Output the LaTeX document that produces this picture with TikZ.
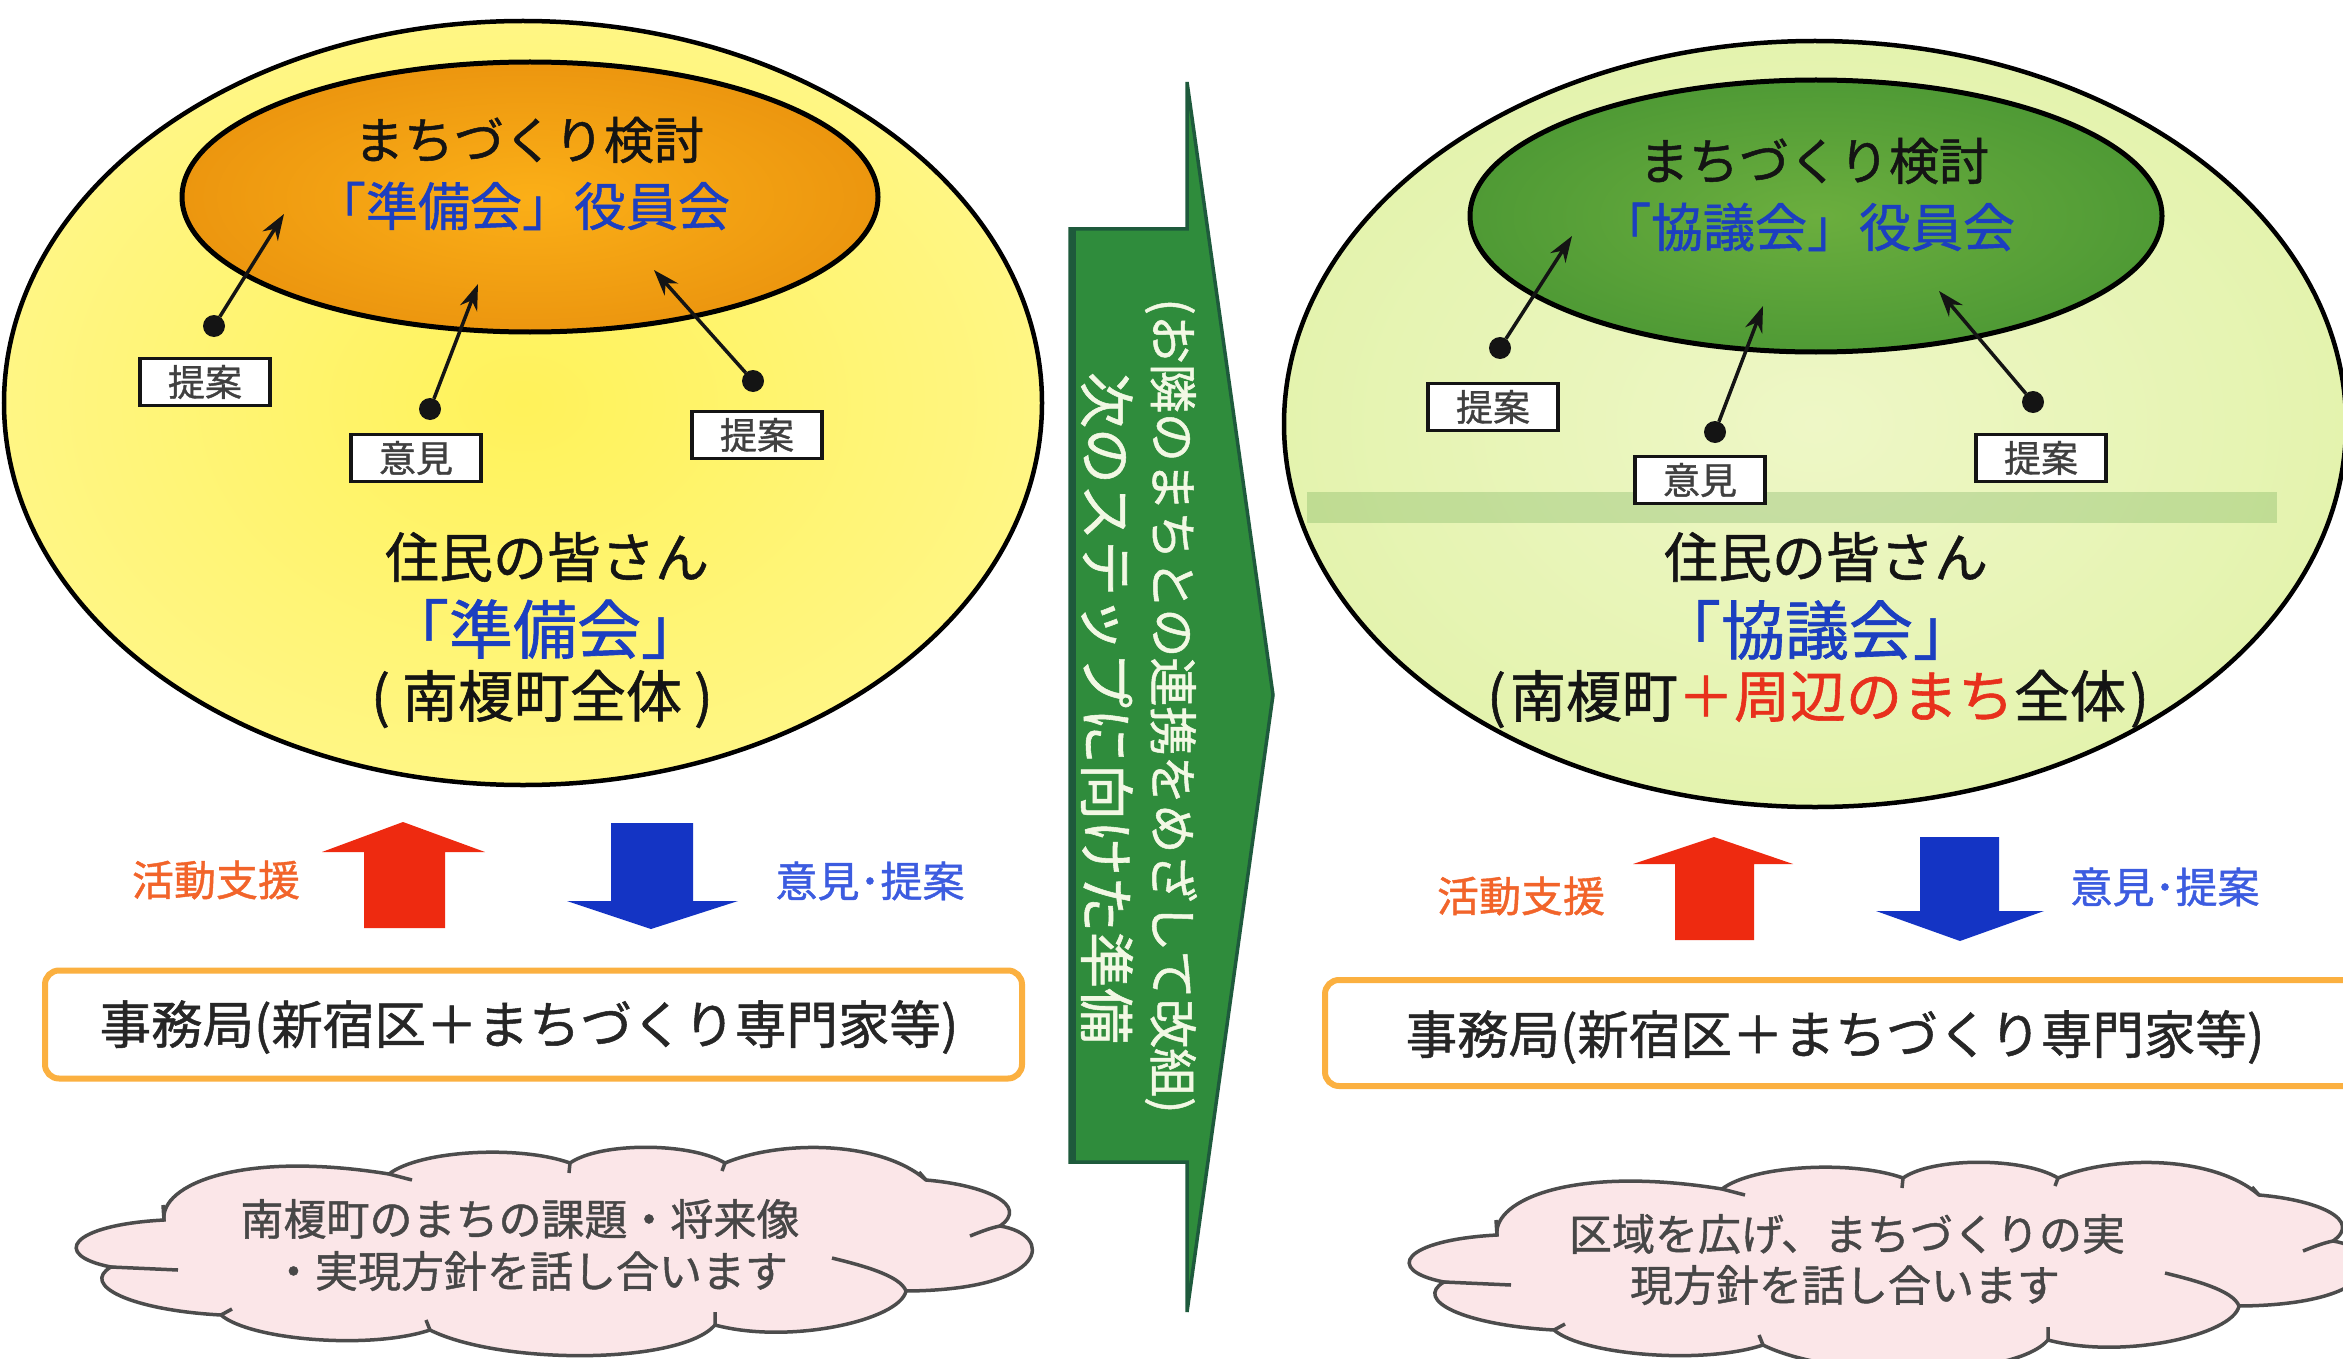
\documentclass[tikz,border=0pt]{standalone}
\usepackage{fontspec}
\setmainfont{Noto Sans CJK JP}[FakeBold=1]
\usetikzlibrary{arrows.meta}
\definecolor{ink}{HTML}{141414}
\definecolor{ttblue}{HTML}{1C3FC0}
\definecolor{lblblue}{HTML}{3C5CE0}
\definecolor{lblorange}{HTML}{F2642A}
\definecolor{redtxt}{HTML}{E8301C}
\definecolor{arrred}{HTML}{EE2A10}
\definecolor{arrblue}{HTML}{1434C4}
\definecolor{boxorange}{HTML}{FBB040}
\definecolor{cloudpink}{HTML}{FBE6E8}
\definecolor{arrgreen}{HTML}{2F8C3C}
\definecolor{arrdark}{HTML}{1E5A3C}
\definecolor{wtxt}{HTML}{F2F8E4}
\definecolor{yelin}{HTML}{FFF25A}
\definecolor{yelout}{HTML}{FFF684}
\definecolor{orin}{HTML}{FBAF17}
\definecolor{orout}{HTML}{EC960F}
\definecolor{palein}{HTML}{EEF7C6}
\definecolor{paleout}{HTML}{E4F3AE}
\definecolor{grnin}{HTML}{6BAE3E}
\definecolor{grnout}{HTML}{4F9A35}
\newcommand{\fs}[1]{\fontsize{#1}{#1}\selectfont}
\newcommand{\cloudshape}{
  (164,1220) .. controls (160,1185) and (240,1150) .. (389,1174)
  .. controls (420,1150) and (520,1145) .. (570,1163)
  .. controls (600,1142) and (690,1142) .. (725,1163)
  .. controls (780,1140) and (880,1140) .. (926,1180)
  .. controls (985,1185) and (1030,1205) .. (1000,1226)
  .. controls (1055,1235) and (1050,1290) .. (906,1291)
  .. controls (900,1320) and (790,1345) .. (715,1325)
  .. controls (680,1365) and (500,1365) .. (430,1330)
  .. controls (370,1350) and (250,1340) .. (221,1315)
  .. controls (130,1310) and (80,1285) .. (111,1267)
  .. controls (50,1255) and (70,1225) .. (164,1220) -- cycle
}
\newcommand{\cloudticks}{
  (389,1174) -- (412,1180)
  (570,1163) -- (569,1173)
  (725,1163) -- (722,1171)
  (926,1180) -- (919,1172)
  (1000,1226) .. controls (990,1228) and (980,1232) .. (970,1236)
  (906,1291) .. controls (900,1275) and (860,1265) .. (832,1258)
  (715,1325) -- (715,1312)
  (430,1330) -- (426,1320)
  (221,1315) -- (232,1309)
  (111,1267) -- (178,1270)
  (164,1220) -- (163,1205)
}
\tikzset{
  x=1pt,y=-1pt,
  every node/.style={inner sep=0pt,outer sep=0pt,text=ink},
  title/.style={font=\fs{50}},
  bluetitle/.style={font=\fs{52},text=ttblue},
  resident/.style={font=\fs{54}},
  groupname/.style={font=\fs{64},text=ttblue},
  scopetxt/.style={font=\fs{56}},
  tag/.style={draw=ink,line width=3.5pt,fill=white,minimum width=130pt,minimum height=47pt,font=\fs{37},text=black!75},
  dot/.style={circle,fill=ink,minimum size=22pt},
  lead/.style={draw=ink,line width=3.5pt,-{Stealth[length=26pt,width=18pt]}},
  outerring/.style={draw=black,line width=4.5pt},
  innerring/.style={draw=black,line width=5pt},
  officebox/.style={draw=boxorange,line width=6pt,rounded corners=14pt,fill=white},
  officetxt/.style={font=\fs{51.5},text=black!85},
  supportlbl/.style={font=\fs{42},text=lblorange},
  opinionlbl/.style={font=\fs{42},text=lblblue},
  cloudbody/.style={draw=black!70,line width=3.5pt,fill=cloudpink},
  cloudline/.style={draw=black!70,line width=3.5pt},
  cloudtxt/.style={font=\fs{43},text=black!72},
  sidetxt/.style={rotate=-90,text=wtxt},
}
\begin{document}
\begin{tikzpicture}
\useasboundingbox (0,0) rectangle (2343,1359);
\fill[white] (0,0) rectangle (2343,1359);

% ---------- left ellipse
\path[outerring,inner color=yelin,outer color=yelout] (523,403) ellipse [x radius=519,y radius=382];
\path[innerring,inner color=orin,outer color=orout] (530,197) ellipse [x radius=348,y radius=135];
\node[title] (lt1) at (529,140) {まちづくり検討};
\node[bluetitle] (lt2) at (522,206) {「準備会」役員会};
\node[tag] (la) at (205,382) {提案};
\node[tag] (lb) at (416,458) {意見};
\node[tag] (lc) at (757,435) {提案};
\node[dot] (lda) at (214,326) {};
\node[dot] (ldb) at (430,409) {};
\node[dot] (ldc) at (753,381) {};
\coordinate (lta) at (284,214);
\coordinate (ltb) at (478,284);
\coordinate (ltc) at (654,270);
\draw[lead] (lda) -- (lta);
\draw[lead] (ldb) -- (ltb);
\draw[lead] (ldc) -- (ltc);
\node[resident] (lr1) at (547,557) {住民の皆さん};
\node[groupname] (lr2) at (545,629) {「準備会」};
\node[scopetxt] (lr3) at (542,699) {(\hspace{12pt}南榎町全体\hspace{12pt})};

% ---------- right ellipse
\path[outerring,inner color=palein,outer color=paleout] (1815,424) ellipse [x radius=531,y radius=383];
\begin{scope}
  \clip (1815,424) ellipse [x radius=529,y radius=381];
  \fill[black!60!green,opacity=.16] (1307,492) rectangle (2277,523);
\end{scope}
\path[innerring,inner color=grnin,outer color=grnout] (1816,216) ellipse [x radius=346,y radius=136];
\node[title] (rt1) at (1814,161) {まちづくり検討};
\node[bluetitle] (rt2) at (1807,227) {「協議会」役員会};
\node[tag] (ra) at (1493,407) {提案};
\node[tag] (rb) at (1700,480) {意見};
\node[tag] (rc) at (2041,458) {提案};
\node[dot] (rda) at (1500,348) {};
\node[dot] (rdb) at (1715,432) {};
\node[dot] (rdc) at (2033,402) {};
\coordinate (rta) at (1572,236);
\coordinate (rtb) at (1763,306);
\coordinate (rtc) at (1939,291);
\draw[lead] (rda) -- (rta);
\draw[lead] (rdb) -- (rtb);
\draw[lead] (rdc) -- (rtc);
\node[resident] (rr1) at (1826,557) {住民の皆さん};
\node[groupname] (rr2) at (1817,630) {「協議会」};
\node[scopetxt] (rr3) at (1818,699) {(\hspace{4pt}南榎町\textcolor{redtxt}{＋周辺のまち}全体\hspace{4pt})};

% ---------- centre arrow
\path[fill=arrgreen,draw=arrdark,line width=3.5pt] (1187,82) -- (1273,695) -- (1187,1312) -- (1187,1162) -- (1070,1162) -- (1070,229) -- (1187,229) -- cycle;
\draw[arrdark,line width=7pt] (1072,229) -- (1072,1162);
\node[sidetxt,font=\fs{49}] (ct1) at (1171,706) {(お隣のまちとの連携をめざして改組)};
\node[sidetxt,font=\fs{56}] (ct2) at (1107,708) {次のステップに向けた準備};

% ---------- left lower
\fill[arrred] (403,822) -- (485,852) -- (445,852) -- (445,928) -- (364,928) -- (364,852) -- (322,852) -- cycle;
\fill[arrblue] (611,823) -- (693,823) -- (693,901) -- (738,901) -- (651,929) -- (567,901) -- (611,901) -- cycle;
\node[supportlbl] (ls) at (216,880) {活動支援};
\node[opinionlbl] (lo) at (870,881) {意見･提案};
\node[officebox,minimum width=977pt,minimum height=108pt] (lbox) at (533.5,1024.5) {};
\node[officetxt] (lboxt) at (529,1027) {事務局(新宿区＋まちづくり専門家等)};
\path[cloudbody] \cloudshape;
\draw[cloudline] \cloudticks;
\node[cloudtxt] (lc1) at (520,1219) {南榎町のまちの課題・将来像};
\node[cloudtxt] (lc2) at (530,1271) {・実現方針を話し合います};

% ---------- right lower
\fill[arrred] (1714,837) -- (1793,864) -- (1754,864) -- (1754,940) -- (1675,940) -- (1675,864) -- (1633,864) -- cycle;
\fill[arrblue] (1920,837) -- (1999,837) -- (1999,911) -- (2044,911) -- (1960,941) -- (1876,911) -- (1920,911) -- cycle;
\node[supportlbl] (rs) at (1521,896) {活動支援};
\node[opinionlbl] (ro) at (2165,887) {意見･提案};
\node[officebox,minimum width=1060pt,minimum height=106pt] (rbox) at (1855,1033) {};
\node[officetxt] (rboxt) at (1835,1037) {事務局(新宿区＋まちづくり専門家等)};
\begin{scope}[shift={(1333,15)}]
\path[cloudbody] \cloudshape;
\draw[cloudline] \cloudticks;
\end{scope}
\node[cloudtxt] (rc1) at (1847,1234) {区域を広げ、まちづくりの実};
\node[cloudtxt] (rc2) at (1845,1285) {現方針を話し合います};
\end{tikzpicture}
\end{document}
